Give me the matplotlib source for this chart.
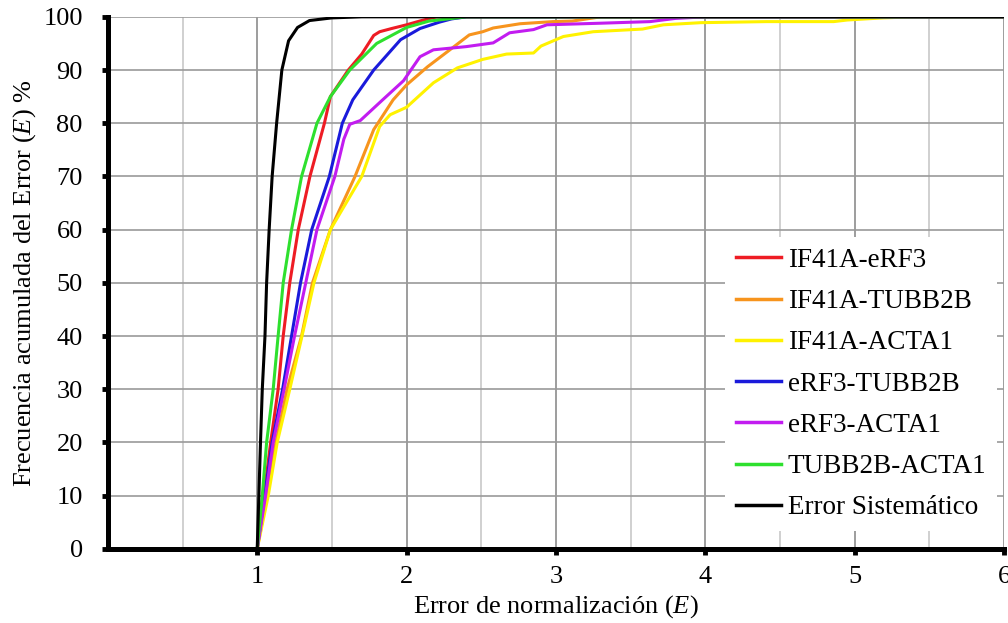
import matplotlib.pyplot as plt
from matplotlib.ticker import MultipleLocator

plt.rcParams['font.family'] = ['Liberation Serif', 'DejaVu Serif']
plt.rcParams['mathtext.fontset'] = 'custom'
plt.rcParams['mathtext.it'] = 'Liberation Serif:italic'
plt.rcParams['mathtext.rm'] = 'Liberation Serif'

# datos (x = error de normalizacion, y = frecuencia acumulada %)
red_x = [1.0, 1.045, 1.09, 1.14, 1.174, 1.218, 1.275, 1.353, 1.45, 1.49, 1.61, 1.70, 1.78, 1.82, 1.9, 2.0, 2.1, 2.2, 6.0]
red_y = [0, 10, 20, 30, 40, 50, 60, 70, 80, 85, 90, 93, 96.5, 97.2, 97.8, 98.5, 99.3, 100, 100]

orange_x = [1.0, 1.065, 1.125, 1.20, 1.297, 1.37, 1.49, 1.655, 1.78, 1.91, 2.0, 2.14, 2.29, 2.42, 2.51, 2.58, 2.76, 2.98, 3.11, 3.3, 6.0]
orange_y = [0, 10, 20, 30, 40, 50, 60, 70, 78.8, 84.4, 87.2, 90.6, 93.8, 96.6, 97.2, 97.9, 98.7, 99.1, 99.2, 100, 100]

yellow_x = [1.0, 1.074, 1.134, 1.218, 1.30, 1.38, 1.49, 1.70, 1.82, 1.89, 2.0, 2.18, 2.34, 2.51, 2.67, 2.85, 2.9, 3.05, 3.25, 3.58, 3.72, 3.97, 4.41, 4.86, 4.95, 5.19, 5.4, 6.0]
yellow_y = [0, 10, 20, 30, 40, 50, 60, 70, 79.4, 81.6, 83, 87.6, 90.4, 92, 93, 93.2, 94.5, 96.3, 97.2, 97.7, 98.5, 98.9, 99.1, 99.1, 99.4, 99.8, 100, 100]

blue_x = [1.0, 1.05, 1.10, 1.17, 1.23, 1.29, 1.365, 1.483, 1.57, 1.64, 1.78, 1.96, 2.09, 2.22, 2.3, 2.4, 6.0]
blue_y = [0, 10, 20, 30, 40, 50, 60, 70, 80, 84.4, 90, 95.7, 97.8, 99, 99.6, 100, 100]

purple_x = [1.0, 1.056, 1.107, 1.18, 1.25, 1.325, 1.40, 1.52, 1.58, 1.62, 1.69, 1.84, 1.98, 2.09, 2.18, 2.40, 2.58, 2.69, 2.85, 2.94, 3.30, 3.63, 3.8, 4.0, 6.0]
purple_y = [0, 10, 20, 30, 40, 50, 60, 70, 77, 79.8, 80.5, 84.4, 88, 92.5, 93.8, 94.4, 95.1, 97, 97.6, 98.5, 98.8, 99.1, 99.7, 100, 100]

green_x = [1.0, 1.034, 1.063, 1.107, 1.14, 1.174, 1.23, 1.297, 1.40, 1.49, 1.62, 1.80, 2.0, 2.15, 2.4, 6.0]
green_y = [0, 10, 20, 30, 40, 50, 60, 70, 80, 85, 90, 95, 98, 99.2, 100, 100]

black_x = [1.0, 1.011, 1.022, 1.034, 1.052, 1.063, 1.08, 1.10, 1.13, 1.165, 1.21, 1.27, 1.35, 1.5, 1.7, 6.0]
black_y = [0, 10, 20, 30, 40, 50, 60, 70, 80, 90, 95.5, 98, 99.3, 99.8, 100, 100]

series = [
    ("IF41A-eRF3", red_x, red_y, "#ee1c24"),
    ("IF41A-TUBB2B", orange_x, orange_y, "#f7941d"),
    ("IF41A-ACTA1", yellow_x, yellow_y, "#fff200"),
    ("eRF3-TUBB2B", blue_x, blue_y, "#1a1adb"),
    ("eRF3-ACTA1", purple_x, purple_y, "#c21cf0"),
    ("TUBB2B-ACTA1", green_x, green_y, "#2ee02e"),
    ("Error Sistemático", black_x, black_y, "#000000"),
]

fig = plt.figure(figsize=(10.08, 6.23), dpi=100)
ax = fig.add_axes([0.107, 0.119, 0.889, 0.854])

for name, xs, ys, col in series:
    ax.plot(xs, ys, color=col, lw=2.2, label=name, solid_joinstyle='round')

ax.set_xlim(0, 6)
ax.set_ylim(0, 100)
ax.set_xticks([1, 2, 3, 4, 5, 6])
ax.xaxis.set_minor_locator(MultipleLocator(0.5))
ax.set_yticks(range(0, 101, 10))

ax.grid(which='major', axis='x', color='#8c8c8c', lw=1.2)
ax.grid(which='minor', axis='x', color='#c8c8c8', lw=1.2)
ax.grid(which='major', axis='y', color='#9a9a9a', lw=1.2)
ax.set_axisbelow(True)

for s in ['top', 'right']:
    ax.spines[s].set_visible(False)
for s in ['left', 'bottom']:
    ax.spines[s].set_linewidth(3.6)
    ax.spines[s].set_zorder(5)

ax.tick_params(which='major', direction='out', length=4, width=3.5, labelsize=19)
ax.tick_params(which='minor', length=0)
ax.tick_params(axis='x', pad=8)
ax.tick_params(axis='y', pad=14)

ax.set_xlabel("Error de normalización ($E$)", fontsize=19, labelpad=4)
ax.set_ylabel("Frecuencia acumulada del Error ($E$) %", fontsize=19, labelpad=4)

leg = ax.legend(loc='lower right', bbox_to_anchor=(1.012, 0.0), fontsize=19.5,
                frameon=True, fancybox=False,
                edgecolor='none', facecolor='white', framealpha=1,
                handlelength=1.65, handletextpad=0.25, labelspacing=0.6,
                borderaxespad=0.65)
for line in leg.get_lines():
    line.set_linewidth(2.5)

fig.savefig("out.png", dpi=100)
